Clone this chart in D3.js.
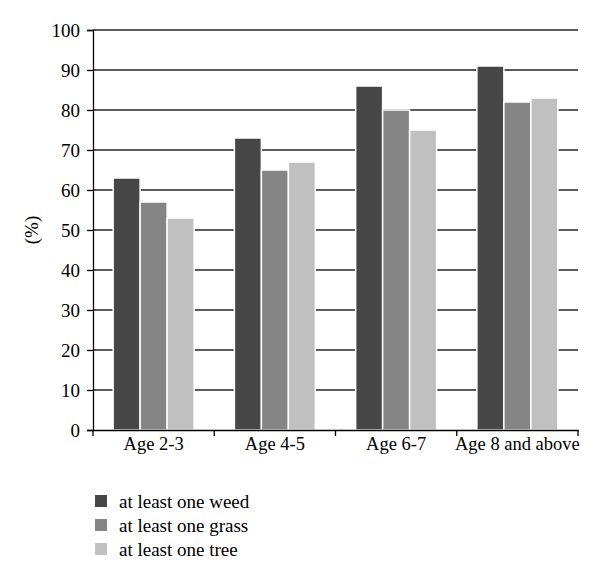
<!DOCTYPE html>
<html><head><meta charset="utf-8">
<script src="https://cdn.jsdelivr.net/npm/d3@7"></script>
<style>body{margin:0;background:#fff}</style>
</head><body>
<svg id="chart" width="600" height="580"></svg>
<script>
const categories = ["Age 2-3", "Age 4-5", "Age 6-7", "Age 8 and above"];
const seriesNames = ["at least one weed", "at least one grass", "at least one tree"];
const weed = [63, 73, 86, 91];
const grass = [57, 65, 80, 82];
const tree = [53, 67, 75, 83];
const yTicks = [0, 10, 20, 30, 40, 50, 60, 70, 80, 90, 100];
const colors = ["#474747", "#858585", "#c0c0c0"];
const series = [weed, grass, tree];

const svg = d3.select("#chart");
const font = "'Liberation Serif', 'DejaVu Serif', serif";
const m = {left: 93, right: 22, top: 30, bottom: 150};
const W = 600, H = 580;
const x = d3.scaleBand().domain(categories).range([m.left, W - m.right]).paddingInner(0).paddingOuter(0);
const y = d3.scaleLinear().domain([0, 100]).range([H - m.bottom, m.top]);
const xs = d3.scaleBand().domain(d3.range(3)).range([0, 81]);

// gridlines
svg.append("g").selectAll("line").data(yTicks.filter(d => d > 0)).join("line")
  .attr("x1", m.left).attr("x2", W - m.right)
  .attr("y1", d => y(d)).attr("y2", d => y(d))
  .attr("stroke", "#222").attr("stroke-width", 1.3);

// bars
categories.forEach((c, i) => {
  const g = svg.append("g").attr("transform", `translate(${x(c) + (x.bandwidth() - 81) / 2},0)`);
  series.forEach((s, j) => {
    g.append("rect")
      .attr("x", xs(j)).attr("width", xs.bandwidth())
      .attr("y", y(s[i])).attr("height", y(0) - y(s[i]))
      .attr("fill", colors[j]).attr("stroke", "#fff").attr("stroke-width", 1.5);
  });
});

// y axis
const ya = svg.append("g").attr("transform", `translate(${m.left},0)`)
  .call(d3.axisLeft(y).tickValues(yTicks).tickSize(6).tickPadding(7));
ya.select(".domain").attr("stroke", "#000").attr("stroke-width", 1.3);
ya.selectAll(".tick line").attr("stroke", "#000").attr("stroke-width", 1.3);
ya.selectAll("text").attr("font-family", font).attr("font-size", 19).attr("fill", "#000");

// x axis
const xa = svg.append("g").attr("transform", `translate(0,${y(0)})`)
  .call(d3.axisBottom(x).tickSize(0).tickPadding(7));
xa.select(".domain").attr("stroke", "#000").attr("stroke-width", 1.3);
xa.selectAll("text").attr("font-family", font).attr("font-size", 18.5).attr("fill", "#000");
const bounds = [m.left].concat(categories.map(c => x(c) + x.bandwidth()));
xa.selectAll("line.sep").data(bounds).join("line").attr("class", "sep")
  .attr("x1", d => d).attr("x2", d => d).attr("y1", 0).attr("y2", 6)
  .attr("stroke", "#000").attr("stroke-width", 1.3);

// y label
svg.append("text").attr("transform", `translate(38,${(y(0) + y(100)) / 2}) rotate(-90)`)
  .attr("text-anchor", "middle").attr("font-family", font).attr("font-size", 19).text("(%)");

// legend
const lg = svg.append("g").attr("transform", "translate(95,501)");
seriesNames.forEach((n, j) => {
  const r = lg.append("g").attr("transform", `translate(0,${j * 24})`);
  r.append("rect").attr("x", 0).attr("y", -6).attr("width", 12).attr("height", 12).attr("fill", colors[j]);
  r.append("text").attr("x", 24).attr("y", 0).attr("dy", "0.35em")
    .attr("font-family", font).attr("font-size", 19).text(n);
});
</script>
</body></html>
